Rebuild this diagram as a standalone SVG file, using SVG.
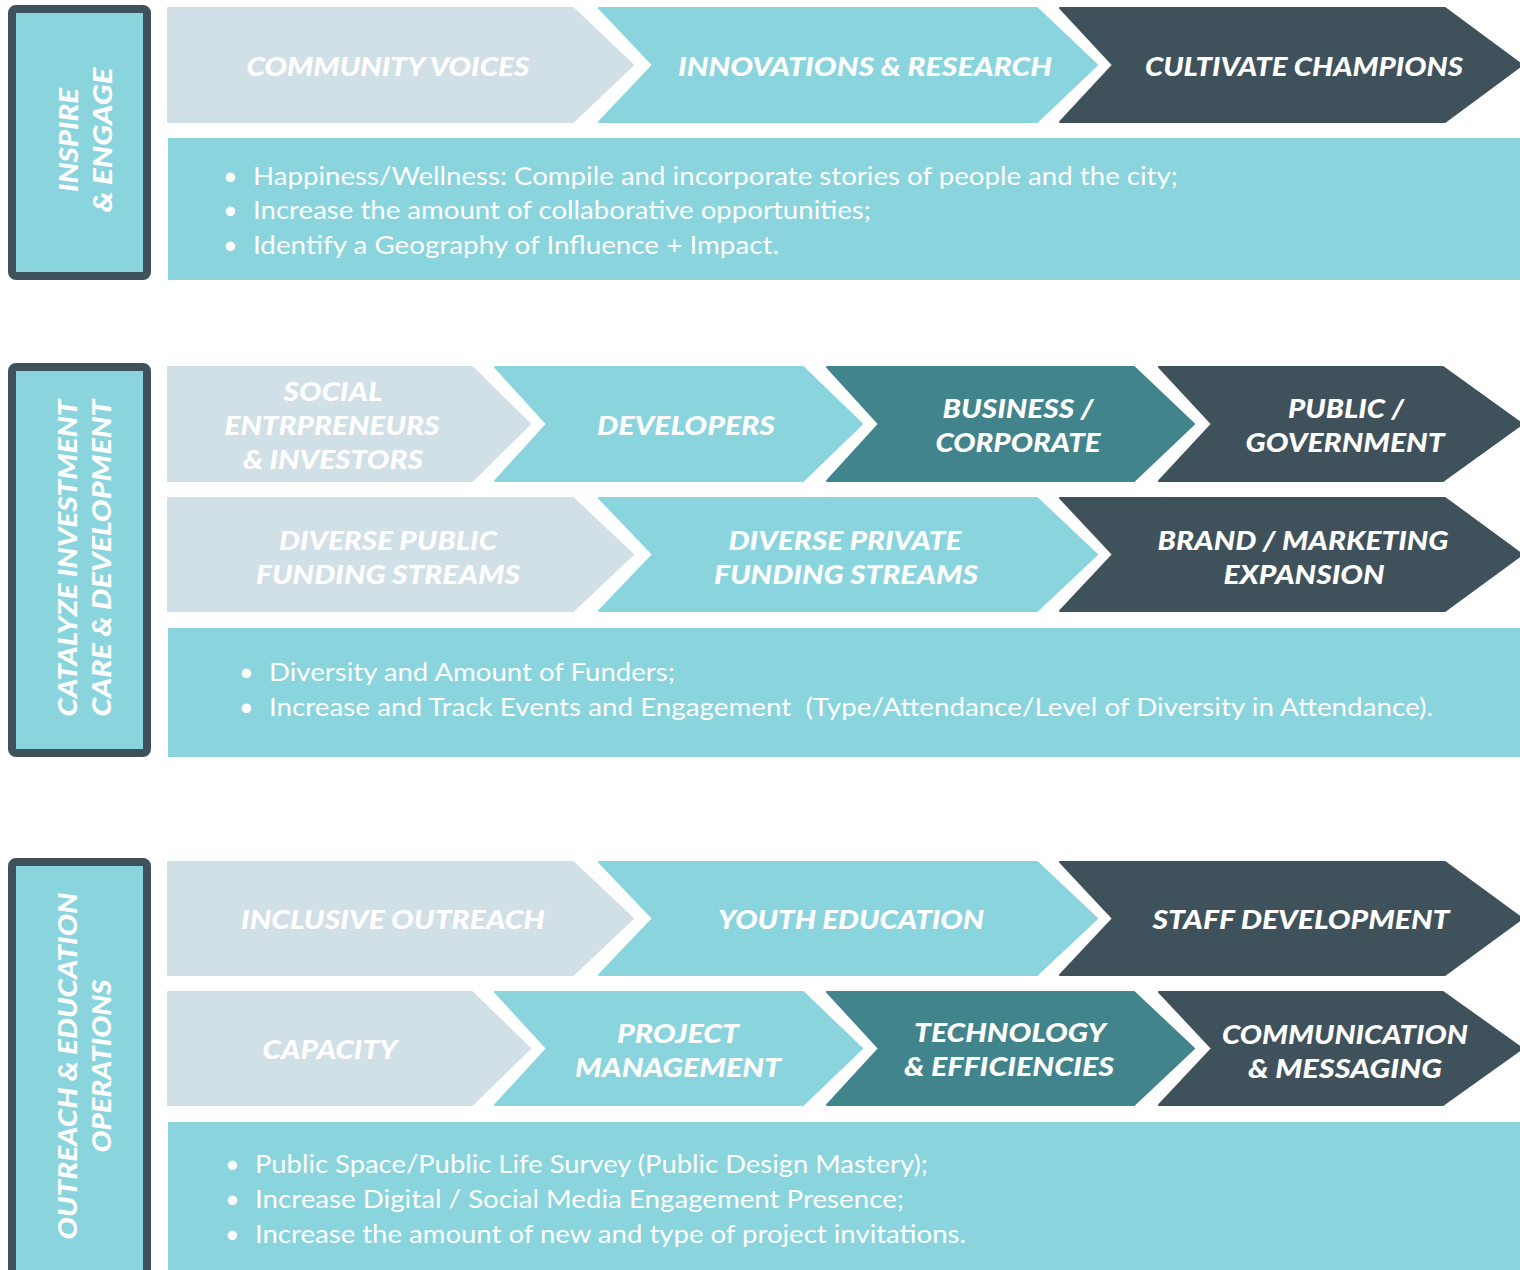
<svg xmlns="http://www.w3.org/2000/svg" width="1520" height="1270" viewBox="0 0 1520 1270">
<style>
.light{fill:#D1DFE7;stroke:#D1DFE7}
.cyan{fill:#89D4DD;stroke:#89D4DD}
.teal{fill:#42848C;stroke:#42848C}
.dark{fill:#3F525C;stroke:#3F525C}
.chev{stroke-width:2;stroke-linejoin:round}
.bar{fill:#89D4DD;stroke:#3F525C;stroke-width:8}
.desc{fill:#89D4DD}
.h{font-family:Lato,"Liberation Sans",sans-serif;font-weight:900;font-style:italic;font-size:27px;fill:#FFFFFF;text-anchor:middle}
.v{font-family:Lato,"Liberation Sans",sans-serif;font-weight:900;font-style:italic;font-size:27px;fill:#FFFFFF;text-anchor:middle}
.b{font-family:Lato,"Liberation Sans",sans-serif;font-weight:400;font-size:25px;fill:#FFFFFF}
</style>
<rect width="1520" height="1270" fill="#FFFFFF"/>

<!-- Section 1 -->
<g id="bar1">
<rect class="bar" x="12" y="9" width="135" height="267" rx="4"/>
<text class="v" transform="translate(78,140) rotate(-90)" textLength="104" lengthAdjust="spacingAndGlyphs">INSPIRE</text>
<text class="v" transform="translate(112,140) rotate(-90)" textLength="145" lengthAdjust="spacingAndGlyphs">&amp; ENGAGE</text>
</g>
<g id="community-voices">
<path class="chev light" d="M168,8 L573,8 L633,65 L573,122 L168,122 Z"/>
<text class="h" x="388" y="76" textLength="283" lengthAdjust="spacingAndGlyphs">COMMUNITY VOICES</text>
</g>
<g id="innovations-research">
<path class="chev cyan" d="M599,8 L1037,8 L1097,65 L1037,122 L599,122 L653,65 Z"/>
<text class="h" x="865" y="76" textLength="374" lengthAdjust="spacingAndGlyphs">INNOVATIONS &amp; RESEARCH</text>
</g>
<g id="cultivate-champions">
<path class="chev dark" d="M1060,8 L1445,8 L1522,65 L1445,122 L1060,122 L1113,65 Z"/>
<text class="h" x="1304" y="76" textLength="318" lengthAdjust="spacingAndGlyphs">CULTIVATE CHAMPIONS</text>
</g>
<g id="desc1">
<rect class="desc" x="168" y="138" width="1352" height="142"/>
<text class="b" x="223" y="185">•</text>
<text class="b" x="253" y="185" textLength="925" lengthAdjust="spacingAndGlyphs">Happiness/Wellness: Compile and incorporate stories of people and the city;</text>
<text class="b" x="223" y="219">•</text>
<text class="b" x="253" y="219" textLength="618" lengthAdjust="spacingAndGlyphs">Increase the amount of collaborative opportunities;</text>
<text class="b" x="223" y="254">•</text>
<text class="b" x="253" y="254" textLength="526" lengthAdjust="spacingAndGlyphs">Identify a Geography of Influence + Impact.</text>
</g>

<!-- Section 2 -->
<g id="bar2">
<rect class="bar" x="12" y="367" width="135" height="386" rx="4"/>
<text class="v" transform="translate(77,558) rotate(-90)" textLength="317" lengthAdjust="spacingAndGlyphs">CATALYZE INVESTMENT</text>
<text class="v" transform="translate(111,558) rotate(-90)" textLength="317" lengthAdjust="spacingAndGlyphs">CARE &amp; DEVELOPMENT</text>
</g>
<g id="social-entrepreneurs">
<path class="chev light" d="M168,367 L472,367 L530,424 L472,481 L168,481 Z"/>
<text class="h" x="333" y="401" textLength="99" lengthAdjust="spacingAndGlyphs">SOCIAL</text>
<text class="h" x="332" y="435" textLength="215" lengthAdjust="spacingAndGlyphs">ENTRPRENEURS</text>
<text class="h" x="333" y="469" textLength="180" lengthAdjust="spacingAndGlyphs">&amp; INVESTORS</text>
</g>
<g id="developers">
<path class="chev cyan" d="M495,367 L803,367 L862,424 L803,481 L495,481 L547,424 Z"/>
<text class="h" x="686" y="435" textLength="178" lengthAdjust="spacingAndGlyphs">DEVELOPERS</text>
</g>
<g id="business-corporate">
<path class="chev teal" d="M827,367 L1134,367 L1194,424 L1134,481 L827,481 L879,424 Z"/>
<text class="h" x="1018" y="418" textLength="151" lengthAdjust="spacingAndGlyphs">BUSINESS /</text>
<text class="h" x="1018" y="452" textLength="165" lengthAdjust="spacingAndGlyphs">CORPORATE</text>
</g>
<g id="public-government">
<path class="chev dark" d="M1159,367 L1443,367 L1522,424 L1443,481 L1159,481 L1212,424 Z"/>
<text class="h" x="1346" y="418" textLength="116" lengthAdjust="spacingAndGlyphs">PUBLIC /</text>
<text class="h" x="1345" y="452" textLength="199" lengthAdjust="spacingAndGlyphs">GOVERNMENT</text>
</g>
<g id="diverse-public">
<path class="chev light" d="M168,498 L573,498 L633,554.5 L573,611 L168,611 Z"/>
<text class="h" x="388" y="550" textLength="218" lengthAdjust="spacingAndGlyphs">DIVERSE PUBLIC</text>
<text class="h" x="388" y="584" textLength="264" lengthAdjust="spacingAndGlyphs">FUNDING STREAMS</text>
</g>
<g id="diverse-private">
<path class="chev cyan" d="M599,498 L1037,498 L1097,554.5 L1037,611 L599,611 L653,554.5 Z"/>
<text class="h" x="845" y="550" textLength="233" lengthAdjust="spacingAndGlyphs">DIVERSE PRIVATE</text>
<text class="h" x="846" y="584" textLength="264" lengthAdjust="spacingAndGlyphs">FUNDING STREAMS</text>
</g>
<g id="brand-marketing">
<path class="chev dark" d="M1060,498 L1445,498 L1522,554.5 L1445,611 L1060,611 L1113,554.5 Z"/>
<text class="h" x="1303" y="550" textLength="291" lengthAdjust="spacingAndGlyphs">BRAND / MARKETING</text>
<text class="h" x="1304" y="584" textLength="161" lengthAdjust="spacingAndGlyphs">EXPANSION</text>
</g>
<g id="desc2">
<rect class="desc" x="168" y="628" width="1352" height="129"/>
<text class="b" x="239" y="681">•</text>
<text class="b" x="269" y="681" textLength="406" lengthAdjust="spacingAndGlyphs">Diversity and Amount of Funders;</text>
<text class="b" x="239" y="716">•</text>
<text class="b" x="269" y="716" textLength="1164" lengthAdjust="spacingAndGlyphs" xml:space="preserve">Increase and Track Events and Engagement  (Type/Attendance/Level of Diversity in Attendance).</text>
</g>

<!-- Section 3 -->
<g id="bar3">
<rect class="bar" x="12" y="862" width="135" height="430" rx="4"/>
<text class="v" transform="translate(77,1066) rotate(-90)" textLength="347" lengthAdjust="spacingAndGlyphs">OUTREACH &amp; EDUCATION</text>
<text class="v" transform="translate(111,1066) rotate(-90)" textLength="173" lengthAdjust="spacingAndGlyphs">OPERATIONS</text>
</g>
<g id="inclusive-outreach">
<path class="chev light" d="M168,862 L573,862 L633,918.5 L573,975 L168,975 Z"/>
<text class="h" x="393" y="929" textLength="304" lengthAdjust="spacingAndGlyphs">INCLUSIVE OUTREACH</text>
</g>
<g id="youth-education">
<path class="chev cyan" d="M599,862 L1037,862 L1097,918.5 L1037,975 L599,975 L653,918.5 Z"/>
<text class="h" x="851" y="929" textLength="266" lengthAdjust="spacingAndGlyphs">YOUTH EDUCATION</text>
</g>
<g id="staff-development">
<path class="chev dark" d="M1060,862 L1445,862 L1522,918.5 L1445,975 L1060,975 L1113,918.5 Z"/>
<text class="h" x="1301" y="929" textLength="297" lengthAdjust="spacingAndGlyphs">STAFF DEVELOPMENT</text>
</g>
<g id="capacity">
<path class="chev light" d="M168,992 L472,992 L530,1048.5 L472,1105 L168,1105 Z"/>
<text class="h" x="330" y="1059" textLength="135" lengthAdjust="spacingAndGlyphs">CAPACITY</text>
</g>
<g id="project-management">
<path class="chev cyan" d="M495,992 L803,992 L862,1048.5 L803,1105 L495,1105 L547,1048.5 Z"/>
<text class="h" x="678" y="1043" textLength="122" lengthAdjust="spacingAndGlyphs">PROJECT</text>
<text class="h" x="678" y="1077" textLength="206" lengthAdjust="spacingAndGlyphs">MANAGEMENT</text>
</g>
<g id="technology-efficiencies">
<path class="chev teal" d="M827,992 L1134,992 L1194,1048.5 L1134,1105 L827,1105 L879,1048.5 Z"/>
<text class="h" x="1010" y="1042" textLength="192" lengthAdjust="spacingAndGlyphs">TECHNOLOGY</text>
<text class="h" x="1009" y="1076" textLength="210" lengthAdjust="spacingAndGlyphs">&amp; EFFICIENCIES</text>
</g>
<g id="communication-messaging">
<path class="chev dark" d="M1159,992 L1443,992 L1522,1048.5 L1443,1105 L1159,1105 L1212,1048.5 Z"/>
<text class="h" x="1345" y="1044" textLength="246" lengthAdjust="spacingAndGlyphs">COMMUNICATION</text>
<text class="h" x="1345" y="1078" textLength="194" lengthAdjust="spacingAndGlyphs">&amp; MESSAGING</text>
</g>
<g id="desc3">
<rect class="desc" x="168" y="1122" width="1352" height="150"/>
<text class="b" x="225" y="1173">•</text>
<text class="b" x="255" y="1173" textLength="673" lengthAdjust="spacingAndGlyphs">Public Space/Public Life Survey (Public Design Mastery);</text>
<text class="b" x="225" y="1208">•</text>
<text class="b" x="255" y="1208" textLength="649" lengthAdjust="spacingAndGlyphs">Increase Digital / Social Media Engagement Presence;</text>
<text class="b" x="225" y="1243">•</text>
<text class="b" x="255" y="1243" textLength="711" lengthAdjust="spacingAndGlyphs">Increase the amount of new and type of project invitations.</text>
</g>
<g id="connectors"></g>
</svg>
